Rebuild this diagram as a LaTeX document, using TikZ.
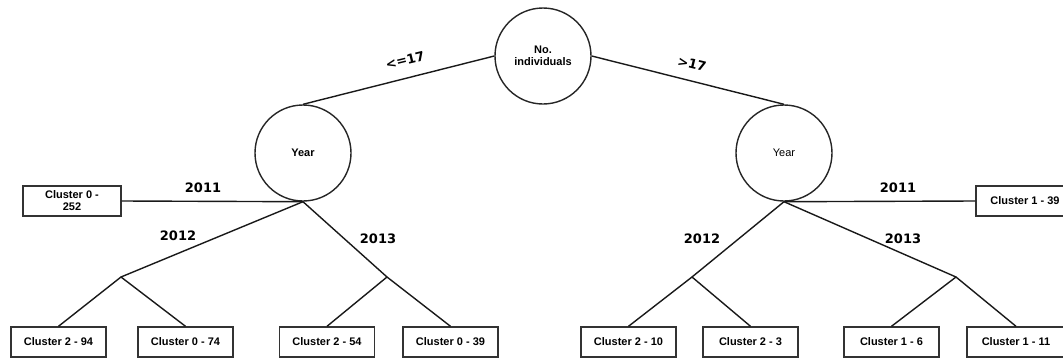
\documentclass[tikz,border=0pt]{standalone}
\usepackage{fontspec}
\setmainfont{Liberation Sans}
\newfontfamily\lblfont{DejaVu Sans}
\begin{document}
\begin{tikzpicture}[x=1bp,y=-1bp,
  edge/.style={draw=black!90, line width=1.4bp},
  dec/.style={circle, draw=black!85, line width=1.4bp, minimum size=96bp, inner sep=0pt, align=center, font=\fontsize{11bp}{12bp}\selectfont},
  leaf/.style={rectangle, draw=black!80, line width=1.4bp, minimum width=95bp, minimum height=30bp, inner sep=1bp, align=center, font=\bfseries\fontsize{11bp}{12bp}\selectfont},
  lbl/.style={font=\lblfont\bfseries\fontsize{13bp}{14bp}\selectfont, inner sep=0pt}]
\useasboundingbox (0,0) rectangle (1063,360);
\clip (0,0) rectangle (1063,360);
% decision nodes
\node[dec, font=\bfseries\fontsize{11bp}{12bp}\selectfont] (root) at (543,56) {No.\\individuals};
\node[dec, font=\bfseries\fontsize{11bp}{12bp}\selectfont] (yl) at (303,153) {Year};
\node[dec] (yr) at (784,153) {Year};
% leaves
\node[leaf, minimum width=98bp] (c252) at (72,201) {Cluster 0 -\\252};
\node[leaf] (c294) at (58.5,342) {Cluster 2 - 94};
\node[leaf] (c074) at (185.5,342) {Cluster 0 - 74};
\node[leaf] (c254) at (327,342) {Cluster 2 - 54};
\node[leaf] (c039) at (450.5,342) {Cluster 0 - 39};
\node[leaf] (c210) at (628.5,342) {Cluster 2 - 10};
\node[leaf] (c23) at (750.5,342) {Cluster 2 - 3};
\node[leaf] (c16) at (891.5,342) {Cluster 1 - 6};
\node[leaf, minimum width=98bp] (c111) at (1016,342) {Cluster 1 - 11};
\node[leaf, minimum width=98bp] (c139) at (1025,201) {Cluster 1 - 39};
% junctions
\coordinate (j1) at (121,277);
\coordinate (j2) at (387,277);
\coordinate (j3) at (692,277);
\coordinate (j4) at (956,277);
% edges
\draw[edge] (root.west) -- (yl.north);
\draw[edge] (root.east) -- (yr.north);
\draw[edge] (c252.east) -- (yl.south);
\draw[edge] (yl.south) -- (j1);
\draw[edge] (yl.south) -- (j2);
\draw[edge] (c294.north) -- (j1) -- (c074.north);
\draw[edge] (c254.north) -- (j2) -- (c039.north);
\draw[edge] (yr.south) -- (c139.west);
\draw[edge] (yr.south) -- (j3);
\draw[edge] (yr.south) -- (j4);
\draw[edge] (c210.north) -- (j3) -- (c23.north);
\draw[edge] (c16.north) -- (j4) -- (c111.north);
% labels
\node[lbl, rotate=13.7] (lle) at (405,60) {<=17};
\node[lbl, rotate=-13.7] (lgt) at (692,64) {>17};
\node[lbl] (l11a) at (203,188) {2011};
\node[lbl] (l12a) at (178,236) {2012};
\node[lbl] (l13a) at (378,239) {2013};
\node[lbl] (l11b) at (898,188) {2011};
\node[lbl] (l12b) at (702,239) {2012};
\node[lbl] (l13b) at (903,239) {2013};
\end{tikzpicture}
\end{document}
